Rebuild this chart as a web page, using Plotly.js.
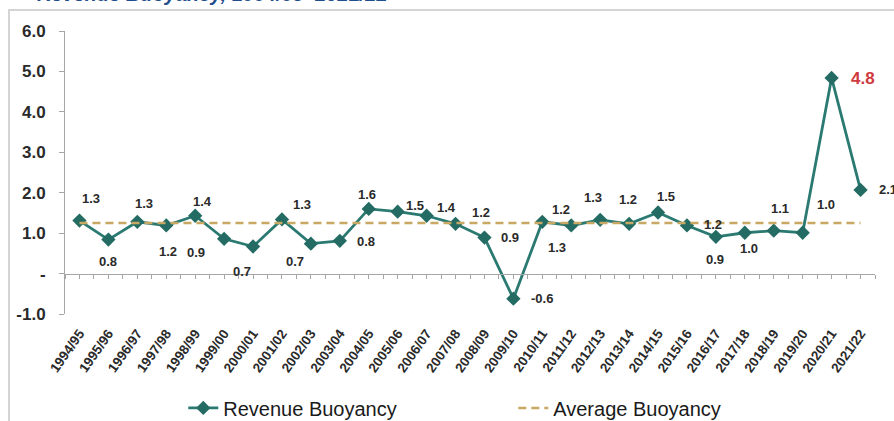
<!DOCTYPE html>
<html>
<head>
<meta charset="utf-8">
<script src="https://cdn.plot.ly/plotly-3.0.1.min.js"></script>
<style>
  html, body { margin: 0; padding: 0; background: #fff; }
  #wrap { position: relative; width: 894px; height: 421px; overflow: hidden; }
  #chart { width: 894px; height: 421px; }
  #frame { position: absolute; left: 8px; top: 9px; right: -4px; bottom: -4px;
           border-left: 2px solid #d4d4d4; border-top: 2px solid #d4d4d4; pointer-events: none; }
</style>
</head>
<body>
<div id="wrap">
  <div id="chart"></div>
  <div id="frame"></div>
</div>
<script>
// ---- data ----
const years = ["1994/95","1995/96","1996/97","1997/98","1998/99","1999/00","2000/01","2001/02",
  "2002/03","2003/04","2004/05","2005/06","2006/07","2007/08","2008/09","2009/10","2010/11",
  "2011/12","2012/13","2013/14","2014/15","2015/16","2016/17","2017/18","2018/19","2019/20",
  "2020/21","2021/22"];
const revenueBuoyancy = [1.31,0.84,1.28,1.19,1.43,0.86,0.67,1.34,0.74,0.81,1.60,1.53,1.43,1.23,
  0.89,-0.62,1.28,1.19,1.33,1.23,1.51,1.19,0.91,1.01,1.06,1.01,4.84,2.07];
const averageBuoyancyValue = 1.25;
const averageBuoyancy = years.map(() => averageBuoyancyValue);
const yTickVals = [-1,0,1,2,3,4,5,6];
const yTickText = ["-1.0","-","1.0","2.0","3.0","4.0","5.0","6.0"];
const highlightIndex = 26;

// ---- label placement (pixel offsets from each point) ----
const labelDx = [12,0,7,2,7,-28,-11,20,-16,26,-2,17,20,25,26,29,15,-10,-7,-1,8,26,-1,4,6,23,31,27];
const labelDy = [-22,22,-18,26,-14,14,25,-15,18,1,-14,-6,-8,-11,0,0,26,-16,-22,-24,-16,-1,23,16,-22,-28,1,0];

const teal = "#2b7a72";
const tealMarker = "#236b63";
const gold = "#c8a862";
const FONT = "Arial, Liberation Sans, sans-serif";

const traces = [
  {
    x: years, y: revenueBuoyancy, type: "scatter", mode: "lines+markers",
    name: "Revenue Buoyancy",
    line: { color: teal, width: 2.8 },
    marker: { symbol: "diamond", size: 11, color: tealMarker },
    xaxis: "x", yaxis: "y", hoverinfo: "x+y"
  },
  {
    x: years, y: averageBuoyancy, type: "scatter", mode: "lines",
    name: "Average Buoyancy",
    line: { color: gold, width: 2.5, dash: "8px,5px" },
    xaxis: "x2", yaxis: "y", hoverinfo: "skip"
  },
  {
    // carrier for the category labels at the bottom of the plot (invisible)
    x: years, y: averageBuoyancy, type: "scatter", mode: "markers",
    marker: { opacity: 0, size: 1 }, showlegend: false, hoverinfo: "skip",
    xaxis: "x3", yaxis: "y"
  }
];

const annotations = revenueBuoyancy.map((v, i) => ({
  x: years[i], y: v, xref: "x", yref: "y",
  text: v.toFixed(1), showarrow: false,
  xshift: labelDx[i], yshift: -labelDy[i],
  font: i === highlightIndex
    ? { family: FONT, size: 17, color: "#cf3a40", weight: "bold" }
    : { family: FONT, size: 13, color: "#2a2a2a", weight: "bold" }
}));

// clipped title at the very top
annotations.push({
  xref: "paper", yref: "paper", x: -0.037, y: 1.086, xanchor: "left", yanchor: "bottom",
  text: "<i>Revenue Buoyancy, 1994/95–2021/22</i>", showarrow: false,
  font: { family: FONT, size: 20, color: "#1f4e8c", weight: "bold" }
});

const zeroPos = (0 - (-1)) / (6 - (-1));
const catRange = [-0.5, years.length - 0.5];

const layout = {
  width: 894, height: 421,
  margin: { l: 65, r: 19, t: 31, b: 107 },
  paper_bgcolor: "#ffffff", plot_bgcolor: "#ffffff",
  showlegend: true,
  legend: {
    orientation: "h", xref: "container", yref: "container",
    x: 0.205, xanchor: "left", y: 0.031, yanchor: "middle",
    font: { family: FONT, size: 20, color: "#1a1a1a" },
    entrywidth: 285, entrywidthmode: "pixels", itemwidth: 30,
    traceorder: "normal"
  },
  xaxis: {
    type: "category", categoryarray: years, range: catRange,
    anchor: "free", position: zeroPos, automargin: false,
    showline: true, linecolor: "#a6a6a6", linewidth: 1,
    ticks: "outside", ticklen: 4, tickcolor: "#a6a6a6",
    showticklabels: false, showgrid: false, zeroline: false
  },
  xaxis2: {
    type: "category", categoryarray: years, range: catRange,
    overlaying: "x", anchor: "free", position: zeroPos, automargin: false,
    showline: false, ticks: "outside", ticklen: 4, tickcolor: "#a6a6a6",
    tickson: "boundaries", showticklabels: false, showgrid: false, zeroline: false
  },
  xaxis3: {
    type: "category", categoryarray: years, range: catRange,
    overlaying: "x", anchor: "y", side: "bottom", automargin: false,
    showline: false, ticks: "", showgrid: false, zeroline: false,
    tickangle: -55, ticklabelstandoff: 8,
    tickfont: { family: FONT, size: 13.5, color: "#2a2a2a", weight: "bold" }
  },
  yaxis: {
    range: [-1, 6], tickvals: yTickVals, ticktext: yTickText, automargin: false,
    showline: true, linecolor: "#a6a6a6", linewidth: 1,
    ticks: "outside", ticklen: 5, tickcolor: "#a6a6a6",
    showgrid: false, zeroline: false, ticklabelstandoff: 10,
    tickfont: { family: FONT, size: 17, color: "#2a2a2a", weight: "bold" }
  },
  annotations: annotations
};

Plotly.newPlot("chart", traces, layout, { displayModeBar: false, staticPlot: true });
</script>
</body>
</html>
